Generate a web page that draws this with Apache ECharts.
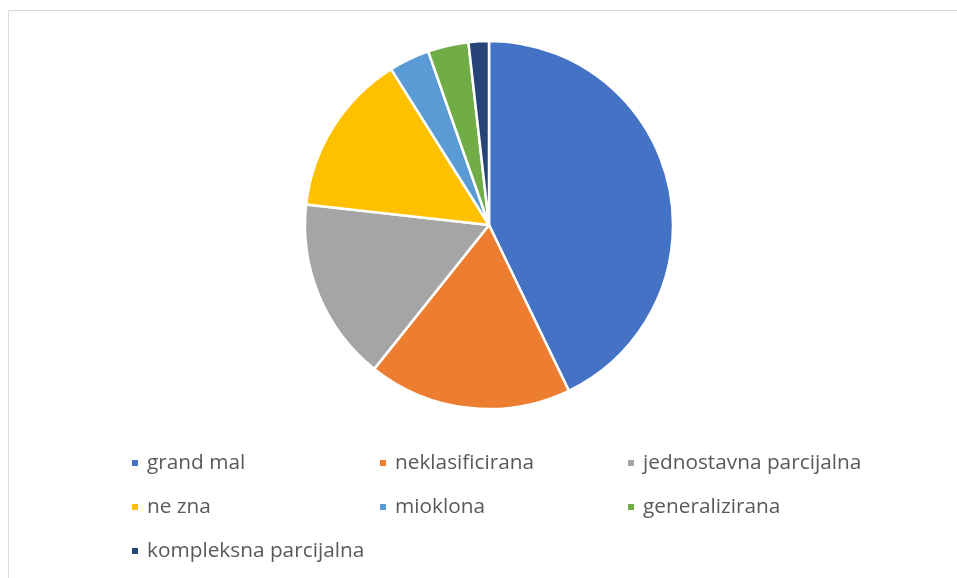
<!DOCTYPE html>
<html><head><meta charset="utf-8">
<script src="https://cdn.jsdelivr.net/npm/echarts@6/dist/echarts.min.js"></script>
<style>html,body{margin:0;padding:0;background:#fff}#c{width:957px;height:578px}</style>
</head><body><div id="c"></div>
<script>
const categories = ['grand mal','neklasificirana','jednostavna parcijalna','ne zna','mioklona','generalizirana','kompleksna parcijalna'];
const values = [24, 10, 9, 8, 2, 2, 1];
const colors = ['#4472C4','#ED7D31','#A5A5A5','#FFC000','#5B9BD5','#70AD47','#264478'];

const chart = echarts.init(document.getElementById('c'), null, {renderer:'canvas'});
chart.setOption({
  animation:false,
  backgroundColor:'#fff',
  color: colors,
  graphic:[{type:'rect', shape:{x:8.5,y:10.5,width:1000,height:1000}, style:{fill:'none',stroke:'#d9d9d9',lineWidth:1}, silent:true}],
  legend:{
    left:130, top:441, width:745, padding:0, itemGap:0,
    itemWidth:8, itemHeight:8, icon:'rect',
    textStyle:{fontFamily:'Open Sans', fontSize:20.8, color:'#595959', width:231, height:44, lineHeight:44, padding:[0,0,0,3]},
    data: categories
  },
  series:[{
    type:'pie', center:[489,225], radius:184, startAngle:90, clockwise:true,
    label:{show:false}, labelLine:{show:false},
    itemStyle:{borderColor:'#fff', borderWidth:2.5},
    emphasis:{disabled:true},
    data: categories.map((n,i)=>({name:n, value:values[i]}))
  }]
});
</script></body></html>
